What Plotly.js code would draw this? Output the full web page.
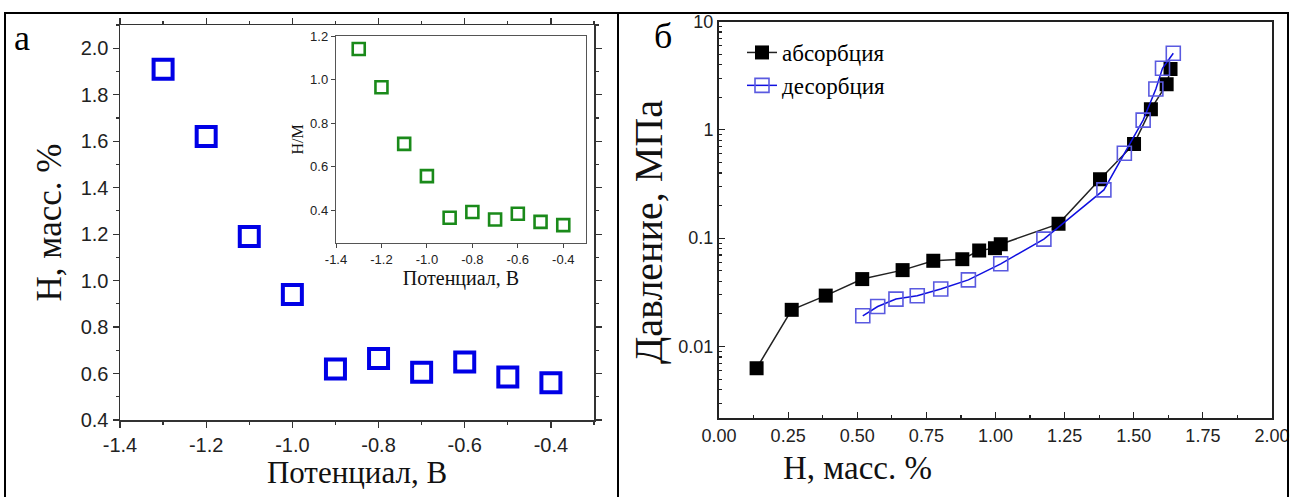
<!DOCTYPE html>
<html>
<head>
<meta charset="utf-8">
<script src="https://cdn.plot.ly/plotly-3.0.1.min.js"></script>
<style>html,body{margin:0;padding:0;background:#fff;}#chart{width:1290px;height:497px;}</style>
</head>
<body>
<div id="chart"></div>
<script>
// Panel a: main
const potential = [-1.3, -1.2, -1.1, -1.0, -0.9, -0.8, -0.7, -0.6, -0.5, -0.4];
const hMass = [1.91, 1.62, 1.19, 0.94, 0.62, 0.665, 0.605, 0.65, 0.585, 0.56];
// Panel a: inset H/M
const hM = [1.14, 0.965, 0.705, 0.557, 0.366, 0.392, 0.358, 0.384, 0.347, 0.332];
// Panel b: absorption
const absX = [0.136, 0.263, 0.386, 0.518, 0.664, 0.775, 0.880, 0.941, 0.998, 1.019, 1.228, 1.378, 1.501, 1.562, 1.619, 1.633];
const absP = [0.0063, 0.0218, 0.0295, 0.0419, 0.0507, 0.0618, 0.064, 0.0769, 0.0809, 0.088, 0.1355, 0.35, 0.741, 1.55, 2.63, 3.65];
// Panel b: desorption
const desX = [0.520, 0.574, 0.640, 0.717, 0.802, 0.902, 1.019, 1.175, 1.392, 1.466, 1.534, 1.580, 1.604, 1.643];
const desP = [0.0192, 0.0234, 0.0274, 0.0294, 0.0339, 0.0412, 0.058, 0.098, 0.279, 0.608, 1.23, 2.38, 3.70, 5.09];

const W = 1290, H = 497;
const px = v => v / W, py = v => 1 - v / H;
const serif = 'Liberation Serif, Times New Roman, serif';
const sans = 'Liberation Sans, Arial, sans-serif';

const traces = [
  {x: potential, y: hMass, xaxis: 'x', yaxis: 'y', mode: 'markers', type: 'scatter', showlegend: false,
   marker: {symbol: 'square-open', size: 19, color: '#0000e6', line: {width: 4, color: '#0000e6'}}},
  {x: potential, y: hM, xaxis: 'x2', yaxis: 'y2', mode: 'markers', type: 'scatter', showlegend: false,
   marker: {symbol: 'square-open', size: 12, color: '#1a8a1a', line: {width: 2.6, color: '#1a8a1a'}}},
  {x: absX, y: absP, xaxis: 'x3', yaxis: 'y3', mode: 'lines+markers', type: 'scatter', name: 'абсорбция',
   line: {color: '#222', width: 1.5}, marker: {symbol: 'square', size: 14, color: '#000'}},
  {x: desX, y: desP, xaxis: 'x3', yaxis: 'y3', mode: 'lines+markers', type: 'scatter', name: 'десорбция',
   line: {color: '#1010e0', width: 1.5}, marker: {symbol: 'square-open', size: 14, color: '#5a5ae0', line: {width: 1.6, color: '#5a5ae0'}}}
];

const layout = {
  width: W, height: H,
  margin: {l: 0, r: 0, t: 0, b: 0},
  paper_bgcolor: '#fff', plot_bgcolor: '#fff',
  showlegend: true,
  legend: {x: px(742), y: py(31), xanchor: 'left', yanchor: 'top', bgcolor: 'rgba(0,0,0,0)',
           font: {family: serif, size: 23, color: '#000'}, tracegroupgap: 0, itemwidth: 30},
  xaxis: {domain: [px(120), px(594)], range: [-1.4, -0.3], anchor: 'y',
          tickvals: [-1.4, -1.2, -1.0, -0.8, -0.6, -0.4], ticktext: ['-1.4','-1.2','-1.0','-0.8','-0.6','-0.4'],
          ticks: 'outside', ticklen: 6, tickwidth: 1.2, tickcolor: '#333',
          minor: {dtick: 0.1, ticks: 'outside', ticklen: 3, tickcolor: '#333'},
          showline: true, linecolor: '#333', linewidth: 1.5, mirror: 'ticks', showgrid: false, zeroline: false,
          tickfont: {family: sans, size: 20, color: '#222'},
          title: {text: 'Потенциал, В', font: {family: serif, size: 31, color: '#111'}, standoff: 6}},
  yaxis: {domain: [py(420), py(25)], range: [0.4, 2.1], anchor: 'x',
          tickvals: [0.4,0.6,0.8,1.0,1.2,1.4,1.6,1.8,2.0], tickformat: '.1f',
          ticks: 'outside', ticklen: 6, tickwidth: 1.2, tickcolor: '#333',
          minor: {dtick: 0.1, ticks: 'outside', ticklen: 3, tickcolor: '#333'},
          showline: true, linecolor: '#333', linewidth: 1.5, mirror: 'ticks', showgrid: false, zeroline: false,
          tickfont: {family: sans, size: 20, color: '#222'},
          title: {text: 'H, масс. %', font: {family: serif, size: 35, color: '#111'}, standoff: 8}},
  xaxis2: {domain: [px(336), px(586)], range: [-1.4, -0.3], anchor: 'y2',
           tickvals: [-1.4, -1.2, -1.0, -0.8, -0.6, -0.4], ticktext: ['-1.4','-1.2','-1.0','-0.8','-0.6','-0.4'],
           ticks: 'outside', ticklen: 4, tickcolor: '#444', showline: true, linecolor: '#555', linewidth: 1.2, mirror: true,
           showgrid: false, zeroline: false, tickfont: {family: sans, size: 13, color: '#222'},
           title: {text: 'Потенциал, В', font: {family: serif, size: 20, color: '#111'}, standoff: 0}},
  yaxis2: {domain: [py(243), py(36)], range: [0.25, 1.2], anchor: 'x2',
           tickvals: [0.4, 0.6, 0.8, 1.0, 1.2], tickformat: '.1f',
           ticks: 'outside', ticklen: 4, tickcolor: '#444', showline: true, linecolor: '#555', linewidth: 1.2, mirror: true,
           showgrid: false, zeroline: false, tickfont: {family: sans, size: 13, color: '#222'},
           title: {text: 'H/M', font: {family: serif, size: 16, color: '#111'}, standoff: 2}},
  xaxis3: {domain: [px(719), px(1272)], range: [0, 2.0], anchor: 'y3',
           tickvals: [0, 0.25, 0.5, 0.75, 1.0, 1.25, 1.5, 1.75, 2.0], tickformat: '.2f',
           ticks: 'inside', ticklen: 6, tickcolor: '#222', tickwidth: 1.2,
           minor: {dtick: 0.125, ticks: 'inside', ticklen: 3, tickcolor: '#222'},
           showline: true, linecolor: '#222', linewidth: 2, mirror: true, showgrid: false, zeroline: false,
           tickfont: {family: sans, size: 18, color: '#222'}},
  yaxis3: {domain: [py(418), py(21.5)], type: 'log', range: [-2.66, 1], anchor: 'x3',
           tickvals: [0.01, 0.1, 1, 10], ticktext: ['0.01', '0.1', '1', '10'],
           ticks: 'inside', ticklen: 6, tickcolor: '#222', tickwidth: 1.2,
           minor: {ticks: 'inside', ticklen: 3, tickcolor: '#222', dtick: 'D1'},
           showline: true, linecolor: '#222', linewidth: 2, mirror: true, showgrid: false, zeroline: false,
           tickfont: {family: sans, size: 18, color: '#222'}},
  annotations: [
    {text: 'а', xref: 'paper', yref: 'paper', x: px(12), y: py(16), xanchor: 'left', yanchor: 'top', showarrow: false,
     font: {family: serif, size: 36, color: '#000'}},
    {text: 'б', xref: 'paper', yref: 'paper', x: px(652), y: py(14), xanchor: 'left', yanchor: 'top', showarrow: false,
     font: {family: serif, size: 36, color: '#000'}},
    {text: 'Давление, МПа', xref: 'paper', yref: 'paper', x: px(649), y: py(232), xanchor: 'center', yanchor: 'middle',
     textangle: -90, showarrow: false, font: {family: serif, size: 40, color: '#111'}},
    {text: 'H, масс. %', xref: 'paper', yref: 'paper', x: px(857), y: py(468), xanchor: 'center', yanchor: 'middle',
     showarrow: false, font: {family: serif, size: 33, color: '#111'}}
  ],
  shapes: [
    {type: 'rect', xref: 'paper', yref: 'paper', x0: px(5), x1: px(1288), y0: -0.02, y1: py(13), line: {color: '#000', width: 2}},
    {type: 'line', xref: 'paper', yref: 'paper', x0: px(618), x1: px(618), y0: -0.02, y1: py(13), line: {color: '#000', width: 2}}
  ]
};

Plotly.newPlot('chart', traces, layout, {displayModeBar: false, staticPlot: true});
</script>
</body>
</html>
